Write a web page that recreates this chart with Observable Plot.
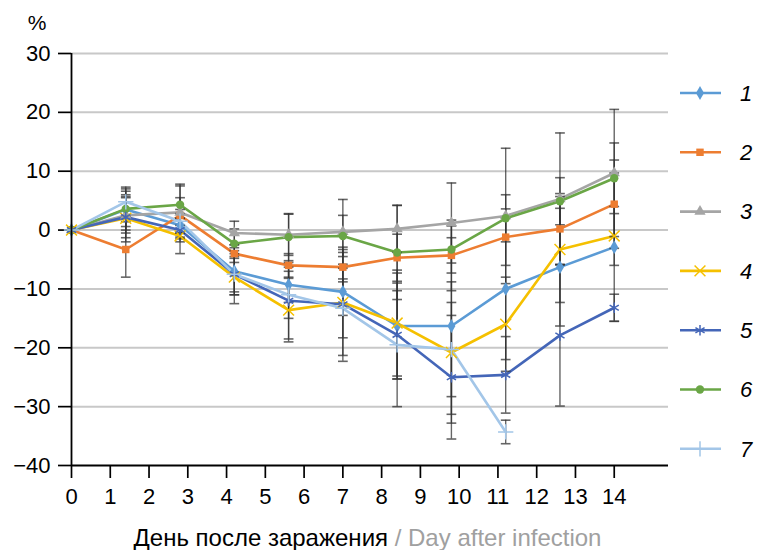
<!DOCTYPE html>
<html>
<head>
<meta charset="utf-8">
<script src="https://cdn.jsdelivr.net/npm/d3@7"></script>
<script src="https://cdn.jsdelivr.net/npm/@observablehq/plot@0.6"></script>
<style>
  html, body { margin: 0; padding: 0; background: #fff; }
  #chart { position: relative; width: 759px; height: 550px; }
</style>
</head>
<body>
<div id="chart"></div>
<script>
// ---- data ----
const days = [0, 1.4, 2.8, 4.2, 5.6, 7.0, 8.4, 9.8, 11.2, 12.6, 14.0];
const xTicks = [0, 1, 2, 3, 4, 5, 6, 7, 8, 9, 10, 11, 12, 13, 14];
const yTicks = [-40, -30, -20, -10, 0, 10, 20, 30];
const seriesNames = ["1", "2", "3", "4", "5", "6", "7"];
const seriesColors = ["#5b9bd5", "#ed7d31", "#a5a5a5", "#f5c000", "#4466b8", "#6aa646", "#a3c6e8"];
const seriesSymbols = ["diamond", "square", "triangle", "times", "asterisk", "circle", "plus"];
const filledSymbols = ["1", "2", "3", "6"];

const s1 = [0, 3.5, 0.8, -7.0, -9.3, -10.5, -16.3, -16.3, -10.0, -6.3, -2.9];
const s2 = [0, -3.3, 2.5, -4.0, -6.0, -6.3, -4.7, -4.3, -1.2, 0.2, 4.4];
const s3 = [0, 2.5, 3.0, -0.5, -0.8, -0.3, 0.2, 1.2, 2.4, 5.3, 9.7];
const s4 = [0, 2.0, -1.0, -8.0, -13.6, -12.3, -15.8, -20.8, -16.0, -3.3, -1.0];
const s5 = [0, 2.2, 0.0, -7.5, -12.0, -12.6, -17.8, -25.0, -24.6, -17.9, -13.2];
const s6 = [0, 3.6, 4.3, -2.3, -1.2, -1.0, -3.8, -3.3, 2.0, 4.9, 8.8];
const s7 = [0, 4.8, 1.5, -7.5, -11.0, -13.3, -19.5, -20.3, -34.3, null, null];

const e1 = [0, 3.5, 2.0, 4.0, 3.0, 4.0, 9.0, 15.0, 12.0, 10.0, 12.6];
const e2 = [0, 4.7, 3.0, 1.5, 2.0, 2.5, 4.0, 6.0, 4.8, 6.0, 7.5];
const e3 = [0, 3.0, 4.5, 2.0, 3.5, 5.5, 4.0, 6.8, 11.5, 11.2, 10.8];
const e4 = [0, 4.0, 3.0, 4.5, 5.4, 9.0, 9.0, 12.0, 8.0, 9.0, 5.0];
const e5 = [0, 3.5, 2.0, 3.5, 6.5, 9.7, 7.5, 10.5, 6.5, 12.0, 2.3];
const e6 = [0, 3.0, 3.5, 2.5, 4.0, 3.5, 8.0, 4.0, 4.0, 4.0, 6.0];
const e7 = [0, 2.5, 2.0, 3.0, 4.0, 5.0, 10.5, 8.0, 2.0, null, null];

const allValues = [s1, s2, s3, s4, s5, s6, s7];
const allErrors = [e1, e2, e3, e4, e5, e6, e7];

// ---- long table ----
const rows = [];
seriesNames.forEach((name, i) => {
  days.forEach((d, j) => {
    const v = allValues[i][j];
    if (v == null) return;
    const e = allErrors[i][j] || 0;
    rows.push({series: name, day: d, value: v, lo: v - e, hi: v + e, err: e});
  });
});
const errRows = rows.filter(r => r.err > 0);

const capSymbol = {
  draw(ctx, size) {
    const w = Math.sqrt(size) / 2;
    ctx.moveTo(-w, 0);
    ctx.lineTo(w, 0);
  }
};

const font = "'Liberation Sans', Arial, Helvetica, sans-serif";
const W = 759, H = 550;
const mL = 71, mR = 91, mT = 53, mB = 85;

const plot = Plot.plot({
  width: W,
  height: H,
  marginLeft: mL,
  marginRight: mR,
  marginTop: mT,
  marginBottom: mB,
  style: {fontFamily: font, fontSize: "22px", color: "#000", background: "#fff", overflow: "visible"},
  x: {domain: [0, 15.4], label: null},
  y: {domain: [-40, 30], label: null},
  color: {domain: seriesNames, range: seriesColors},
  symbol: {domain: seriesNames, range: seriesSymbols},
  marks: [
    Plot.gridY(yTicks.filter(t => t > -40), {stroke: "#c8c8c8", strokeOpacity: 1, strokeWidth: 2}),
    Plot.axisY({ticks: yTicks, tickSize: 13, tickPadding: 8, stroke: "#000", strokeWidth: 1.7, fontSize: 22, label: null,
      tickFormat: d => d < 0 ? "\u2212" + (-d) : String(d)}),
    Plot.axisX({ticks: xTicks, tickSize: 13, tickPadding: 10, stroke: "#000", strokeWidth: 1.7, fontSize: 22, label: null}),
    Plot.line(rows, {x: "day", y: "value", z: "series", stroke: "series", strokeWidth: 2.6, curve: "linear"}),
    Plot.ruleX(errRows, {x: "day", y1: "lo", y2: "hi", stroke: "#333", strokeOpacity: 0.75, strokeWidth: 1.4}),
    Plot.dot(errRows, {x: "day", y: "lo", symbol: capSymbol, r: 5.5, stroke: "#333", strokeOpacity: 0.75, strokeWidth: 1.6}),
    Plot.dot(errRows, {x: "day", y: "hi", symbol: capSymbol, r: 5.5, stroke: "#333", strokeOpacity: 0.75, strokeWidth: 1.6}),
    Plot.dot(rows.filter(r => filledSymbols.includes(r.series)), {x: "day", y: "value", symbol: "series", fill: "series", r: 4.2}),
    Plot.dot(rows.filter(r => !filledSymbols.includes(r.series)), {x: "day", y: "value", symbol: "series", stroke: "series", r: 5, strokeWidth: 1.5}),
    Plot.ruleY([-40], {stroke: "#000", strokeWidth: 1.8}),
    Plot.ruleX([0], {stroke: "#000", strokeWidth: 1.8})
  ]
});

document.getElementById("chart").appendChild(plot);

// ---- extra text & legend ----
const svg = d3.select(plot);
svg.append("text")
  .attr("x", 37).attr("y", 30)
  .attr("text-anchor", "middle")
  .attr("font-family", font).attr("font-size", 21)
  .attr("fill", "#000")
  .text("%");

const xl = svg.append("text")
  .attr("x", (mL + (W - mR)) / 2 - 2).attr("y", 546)
  .attr("text-anchor", "middle")
  .attr("font-family", font).attr("font-size", 24);
xl.append("tspan").attr("fill", "#000").text("День после заражения");
xl.append("tspan").attr("fill", "#a0a0a0").text(" / Day after infection");

const symMap = {
  diamond: d3.symbolDiamond, square: d3.symbolSquare, triangle: d3.symbolTriangle,
  times: d3.symbolTimes, asterisk: d3.symbolAsterisk, circle: d3.symbolCircle, plus: d3.symbolPlus
};
const leg = svg.append("g");
seriesNames.forEach((name, i) => {
  const cy = 93 + i * 59.3;
  const g = leg.append("g").attr("transform", `translate(0,${cy})`);
  g.append("line").attr("x1", 680).attr("x2", 721).attr("y1", 0).attr("y2", 0)
    .attr("stroke", seriesColors[i]).attr("stroke-width", 2.6);
  const filled = filledSymbols.includes(name);
  const area = filled ? Math.PI * 4.2 * 4.2 : Math.PI * 5 * 5;
  g.append("path")
    .attr("transform", "translate(700,0)")
    .attr("d", d3.symbol(symMap[seriesSymbols[i]], area)())
    .attr("fill", filled ? seriesColors[i] : "none")
    .attr("stroke", filled ? "none" : seriesColors[i])
    .attr("stroke-width", 1.5);
  g.append("text").attr("x", 746).attr("y", 0).attr("dy", "0.35em")
    .attr("font-family", font).attr("font-size", 22).attr("font-style", "italic")
    .attr("fill", "#000").text(name);
});
</script>
</body>
</html>
